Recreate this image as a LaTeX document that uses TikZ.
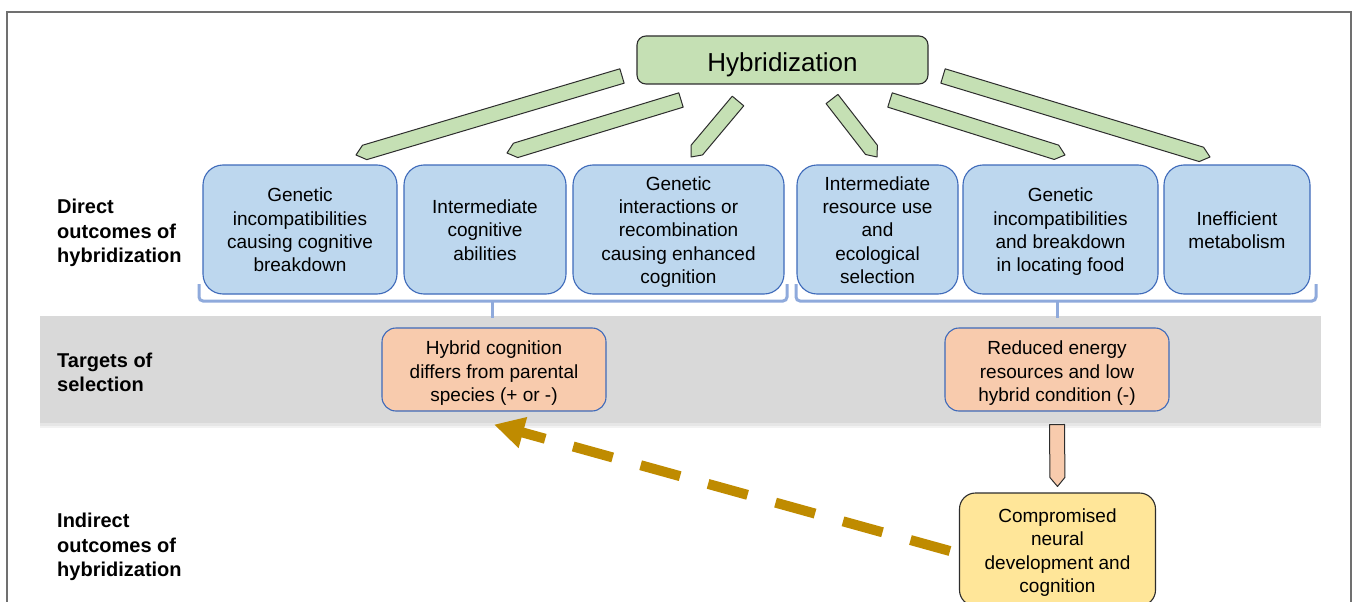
\documentclass[tikz,border=0pt]{standalone}
\usepackage{fontspec}
\setmainfont{Liberation Sans}
\usetikzlibrary{calc,arrows.meta}
\definecolor{framegray}{RGB}{112,112,112}
\definecolor{bandgray}{RGB}{217,217,217}
\definecolor{greenfill}{RGB}{197,224,180}
\definecolor{bluefill}{RGB}{189,215,238}
\definecolor{blueline}{RGB}{62,106,186}
\definecolor{orangefill}{RGB}{248,203,173}
\definecolor{yellowfill}{RGB}{255,230,153}
\definecolor{braceblue}{RGB}{143,170,220}
\definecolor{goldline}{RGB}{191,139,0}
\definecolor{darkline}{RGB}{45,45,45}
\newcommand\blockarr[3]{%
  \coordinate (tmpB) at ($(#3)!9pt!(#2)$);
  \path[#1] ($(#2)!7.5pt!90:(#3)$) -- ($(tmpB)!7.5pt!-90:(#2)$) -- (#3)
    -- ($(tmpB)!7.5pt!90:(#2)$) -- ($(#2)!7.5pt!-90:(#3)$) -- cycle;}
% struts: top (height given) and bottom (fixed depth)
\newcommand\Tst[1]{\rule{0pt}{#1}}
\newcommand\Bst{\rule[-4.5pt]{0pt}{4.5pt}}
\begin{document}
\begin{tikzpicture}[x=1pt,y=-1pt,
  txt/.style={font=\fontsize{19}{23.3}\selectfont, align=center, inner sep=0pt, text=black},
  bluebox/.style={txt, draw=blueline, line width=1.1pt, fill=bluefill, rounded corners=20pt, minimum height=129pt},
  orangebox/.style={txt, draw=blueline, line width=1.1pt, fill=orangefill, rounded corners=14pt, minimum width=224pt, minimum height=83pt},
  yellowbox/.style={txt, draw=darkline, line width=1.1pt, fill=yellowfill, rounded corners=16pt, minimum width=196pt, minimum height=113pt},
  hybbox/.style={draw=darkline, line width=1.1pt, fill=greenfill, rounded corners=9pt, minimum width=291pt, minimum height=48pt, inner sep=0pt, font=\fontsize{26}{30}\selectfont},
  rowlabel/.style={font=\bfseries\fontsize{20}{24.3}\selectfont, align=left, anchor=west, inner sep=0pt},
  greenarrow/.style={draw=darkline, line width=1pt, fill=greenfill, line join=round},
  orangearrow/.style={draw=darkline, line width=1pt, fill=orangefill, line join=round},
  bracket/.style={draw=braceblue, line width=3pt, rounded corners=4pt},
  dasharrow/.style={draw=goldline, line width=10pt, dash pattern=on 41pt off 29pt, -{Triangle[length=30pt,width=30pt]}}
]
\clip (0,0) rectangle (1358,602);
\fill[white] (0,0) rectangle (1358,602);
% frame
\draw[framegray, line width=1.4pt] (7,12) rectangle (1351,650);
% gray band with soft lower edge
\fill[bandgray!35] (40,423) rectangle (1321,428);
\fill[bandgray!65] (40,423) rectangle (1321,425.5);
\fill[bandgray] (40,316) rectangle (1321,423);
% brackets
\draw[bracket] (199,284) -- (199,301) -- (787,301) -- (787,284);
\draw[braceblue, line width=3pt] (492.5,301) -- (492.5,318);
\draw[bracket] (796,284) -- (796,301) -- (1316,301) -- (1316,284);
\draw[braceblue, line width=3pt] (1057,301) -- (1057,318);
% top node
\node[hybbox] (hyb) at (782.5,60) {\Tst{28pt}Hybridization\rule[-5.5pt]{0pt}{5.5pt}};
% direct outcomes
\node[bluebox, minimum width=194pt] (b1) at (300,229.5) {\Tst{19pt}Genetic\\incompatibilities\\causing cognitive\\breakdown\Bst};
\node[bluebox, minimum width=162pt] (b2) at (485,229.5) {\Tst{19pt}Intermediate\\cognitive\\abilities\Bst};
\node[bluebox, minimum width=211pt] (b3) at (678.5,229.5) {\Tst{19pt}Genetic\\interactions or\\recombination\\causing enhanced\\cognition\Bst};
\node[bluebox, minimum width=161pt] (b4) at (877.5,229.5) {\Tst{19pt}Intermediate\\resource use\\and\\ecological\\selection\Bst};
\node[bluebox, minimum width=195pt] (b5) at (1060.5,229.5) {\Tst{19pt}Genetic\\incompatibilities\\and breakdown\\in locating food\Bst};
\node[bluebox, minimum width=146pt] (b6) at (1237,229.5) {\Tst{19pt}Inefficient\\metabolism\Bst};
% targets
\node[orangebox] (o1) at (494,369.5) {\Tst{22pt}Hybrid cognition\\differs from parental\\species (+ or -)\Bst};
\node[orangebox] (o2) at (1057,369.5) {\Tst{22pt}Reduced energy\\resources and low\\hybrid condition (-)\Bst};
% indirect
\node[yellowbox] (y1) at (1057.5,549.5) {\Tst{20.4pt}Compromised\\neural\\development and\\cognition\Bst};
% row labels
\node[rowlabel] (l1) at (57,231) {\Tst{18.8pt}Direct\\outcomes of\\hybridization\Bst};
\node[rowlabel] (l2) at (57,372.5) {\Tst{18.8pt}Targets of\\selection\Bst};
\node[rowlabel] (l3) at (57,545) {\Tst{18.8pt}Indirect\\outcomes of\\hybridization\Bst};
% green block arrows
\coordinate (a1s) at (622,76);  \coordinate (a1e) at (356,155);
\coordinate (a2s) at (681,100); \coordinate (a2e) at (507,153);
\coordinate (a3s) at (738,101); \coordinate (a3e) at (691,157);
\coordinate (a4s) at (832,99);  \coordinate (a4e) at (877,157);
\coordinate (a5s) at (890,100); \coordinate (a5e) at (1065,155);
\coordinate (a6s) at (943,76);  \coordinate (a6e) at (1210,157);
\blockarr{greenarrow}{a1s}{a1e}
\blockarr{greenarrow}{a2s}{a2e}
\blockarr{greenarrow}{a3s}{a3e}
\blockarr{greenarrow}{a4s}{a4e}
\blockarr{greenarrow}{a5s}{a5e}
\blockarr{greenarrow}{a6s}{a6e}
% orange down arrow
\coordinate (ds) at ([yshift=-13pt]o2.south);
\coordinate (de) at ([yshift=6pt]y1.north);
\blockarr{orangearrow}{ds}{de}
% dashed arrow
\coordinate (dstart) at ([xshift=-9pt,yshift=-1.5pt]y1.west);
\coordinate (dtip) at ([yshift=-13pt]o1.south);
\draw[dasharrow] (dstart) -- (dtip);
\end{tikzpicture}
\end{document}
